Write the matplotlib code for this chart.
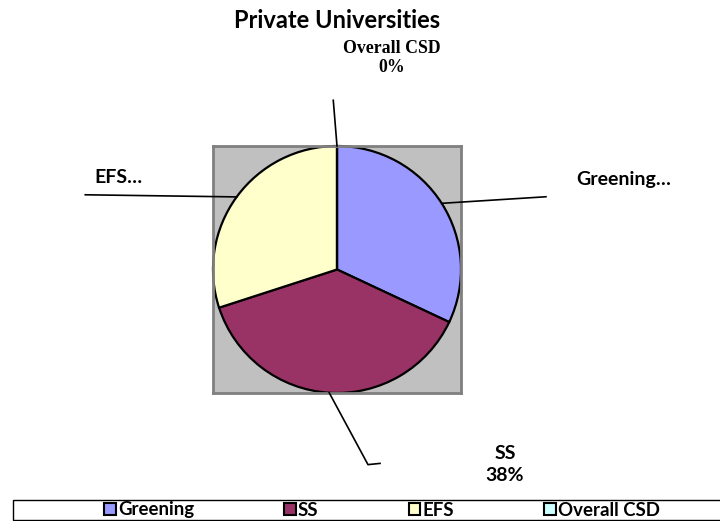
import matplotlib
matplotlib.use("Agg")
import matplotlib.pyplot as plt
from matplotlib.patches import Patch, Rectangle
import numpy as np

title = "Private Universities"
categories = ["Greening", "SS", "EFS", "Overall CSD"]
values = [32, 38, 30, 0]
colors = ["#9999FF", "#993366", "#FFFFCC", "#CCFFFF"]
label_texts = ["Greening…", "SS\n38%", "EFS…", "Overall CSD\n0%"]

W, H = 720, 521
fig = plt.figure(figsize=(W / 100, H / 100), dpi=100)
fig.patch.set_facecolor("white")

# plot area (gray square) in pixel coordinates
L, T, R, B = 213, 146, 461, 393
ax = fig.add_axes([L / W, 1 - B / H, (R - L) / W, (B - T) / H])

wedges, _ = ax.pie(values, colors=colors, startangle=90, counterclock=False,
                   radius=1.0, center=(0, 0), frame=True,
                   wedgeprops=dict(edgecolor="black", linewidth=1.6))
ax.set_facecolor("#C0C0C0")
for s in ax.spines.values():
    s.set_visible(True)
    s.set_edgecolor("#808080")
    s.set_linewidth(2)
ax.set_xticks([])
ax.set_yticks([])
ax.set_xlim(-1.0, 1.0)
ax.set_ylim(-1.0, 1.0)
ax.set_aspect("auto")

font = "Lato"
fig.text(337 / W, 1 - 20 / H, title, ha="center", va="center",
         fontsize=17, fontweight="bold", family=font)

# label positions (data units relative to pie, radius 1)
label_pos = [(1.927, 0.726), (1.355, -1.58), (-1.565, 0.742), (0.444, 1.714)]
label_ha = ["left", "center", "right", "center"]
line_ends = [[(1.685, 0.589)], [(0.25, -1.58), (0.347, -1.57)],
             [(-2.03, 0.605)], [(-0.03, 1.37)]]

for i, w in enumerate(wedges):
    mid = np.deg2rad((w.theta1 + w.theta2) / 2)
    p0 = (np.cos(mid), np.sin(mid))
    pts = [p0] + line_ends[i]
    xs = [p[0] for p in pts]
    ys = [p[1] for p in pts]
    ax.plot(xs, ys, color="black", lw=1.2, clip_on=False, zorder=5)
    if categories[i] == "Overall CSD":
        ax.text(*label_pos[i], label_texts[i], ha=label_ha[i], va="center",
                fontsize=12.8, fontweight="bold", family="Liberation Serif",
                linespacing=1.2, clip_on=False)
    else:
        ax.text(*label_pos[i], label_texts[i], ha=label_ha[i], va="center",
                fontsize=14, fontweight="bold", family=font,
                linespacing=1.4, clip_on=False)

# legend box
fig.patches.append(Rectangle((13 / W, 1 - 520 / H), (730 - 13) / W, 20 / H,
                             transform=fig.transFigure, facecolor="white",
                             edgecolor="black", linewidth=1.0, zorder=1))
handles = [Patch(facecolor=c, edgecolor="black", linewidth=1.5) for c in colors]
leg = fig.legend(handles, categories, ncol=4, loc="center left",
                 bbox_to_anchor=(104 / W, 1 - 510 / H), frameon=False,
                 prop=dict(family=font, weight="bold", size=13.4),
                 handlelength=0.62, handleheight=0.62, handletextpad=0.12,
                 columnspacing=4.85, borderpad=0, borderaxespad=0)
leg.set_zorder(2)

fig.savefig("out.png", dpi=100)
